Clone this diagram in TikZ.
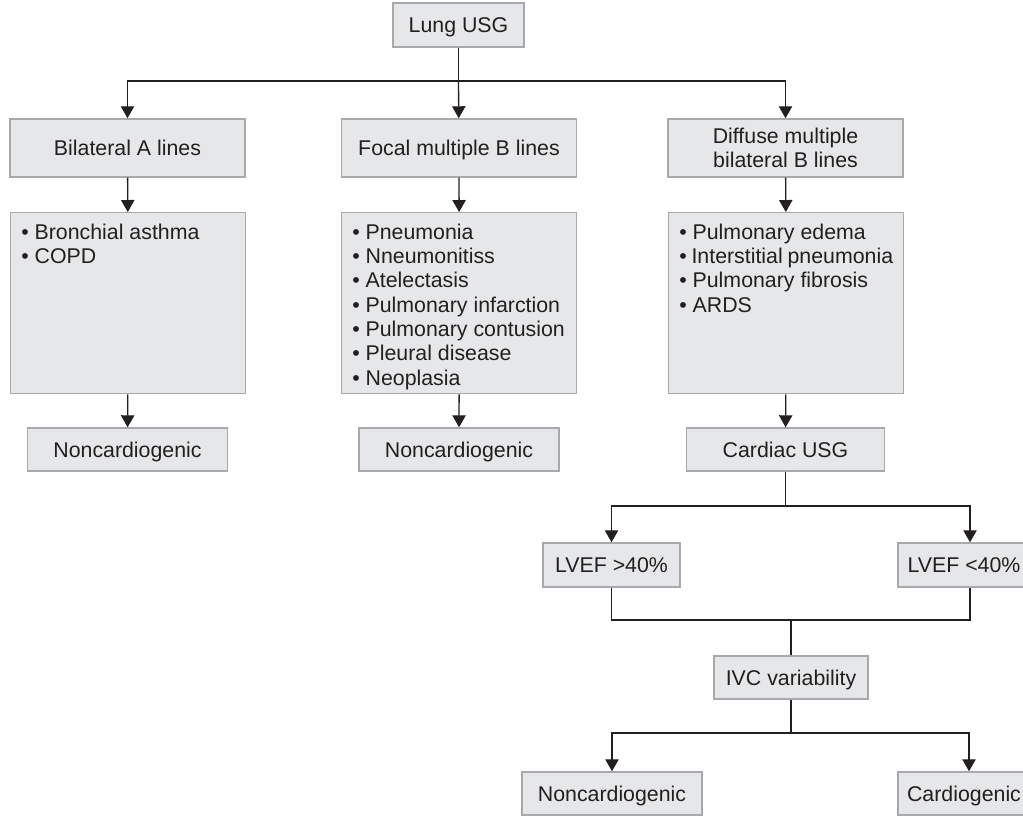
\documentclass[tikz,border=0pt]{standalone}
\usepackage{fontspec}
\setmainfont{Liberation Sans}
\usetikzlibrary{arrows.meta,positioning}
\definecolor{boxfill}{HTML}{E6E7E8}
\definecolor{boxline}{HTML}{A7A9AC}
\definecolor{ink}{HTML}{231F20}
\tikzset{
    box/.style = {
        draw = boxline,
        fill = boxfill,
        line width = 1.1pt,
        text = ink,
        inner sep = 0pt,
        },
    one line/.style = {
        box,
        text height = 11.5pt,
        text depth = 0pt,
        },
    list box/.style = {
        box,
        anchor = north west,
        inner xsep = 7.9pt,
        inner ysep = 7.3pt,
        },
    link/.style = {
        draw = ink,
        line width = 1pt,
        },
    arrow/.style = {
        link,
        -{Triangle[length=9pt,width=10pt]},
        },
}
\newcommand{\listtext}[1]{\parbox[c][121.15pt][t]{160.45pt}{\strut #1}}

\begin{document}
\begin{tikzpicture}[x=0.75pt, y=-0.75pt, font=\fontsize{16pt}{18.2pt}\selectfont]
            \useasboundingbox (0,0) rectangle (1023,815);
            \clip (0,0) rectangle (1023,815);

            % lung ultrasound
            \node[one line, minimum width=98.25pt, minimum height=33pt] (lung) at (458.5,25) {Lung USG};
            \node[one line, minimum width=176.25pt, minimum height=43.5pt] (bilat) at (127.5,148) {Bilateral A lines};
            \node[one line, minimum width=176.25pt, minimum height=43.5pt] (focal) at (459,148) {Focal multiple B lines};
            \node[box, align=center, minimum width=176.25pt, minimum height=43.5pt] (diffuse) at (785.5,148) {Diffuse multiple\\bilateral B lines};

            \node[list box] (list1) at (10,212) {\listtext{\textbullet{} Bronchial asthma\\\textbullet{} COPD}};
            \node[list box] (list2) at (341,212) {\listtext{\textbullet{} Pneumonia\\\textbullet{} Nneumonitiss\\\textbullet{} Atelectasis\\\textbullet{} Pulmonary infarction\\\textbullet{} Pulmonary contusion\\\textbullet{} Pleural disease\\\textbullet{} Neoplasia}};
            \node[list box] (list3) at (668,212) {\listtext{\textbullet{} Pulmonary edema\\\textbullet{} Interstitial pneumonia\\\textbullet{} Pulmonary fibrosis\\\textbullet{} ARDS}};

            \node[one line, minimum width=150pt, minimum height=32.25pt] (nc1) at (127.5,449.5) {Noncardiogenic};
            \node[one line, minimum width=150pt, minimum height=32.25pt] (nc2) at (459,449.5) {Noncardiogenic};
            \node[one line, minimum width=148.5pt, minimum height=32.25pt] (cardiac) at (785.5,449.5) {Cardiac USG};

            % cardiac ultrasound
            \node[one line, minimum width=102.75pt, minimum height=33pt] (lvef1) at (611.5,565) {LVEF >40\%};
            \node[one line, minimum width=108pt, minimum height=33pt] (lvef2) at (970,565) {LVEF <40\%\hspace*{9pt}};
            \node[one line, minimum width=115.5pt, minimum height=32.25pt] (ivc) at (791,677.5) {IVC variability};
            \node[one line, minimum width=135pt, minimum height=32.25pt] (nc3) at (612,793.5) {Noncardiogenic};
            \node[one line, minimum width=106.5pt, minimum height=32.25pt] (card) at (969,793.5) {Cardiogenic\hspace*{7.5pt}};

            \coordinate (lung split) at (458.5,81);
            \coordinate (card split) at (785.5,506);
            \coordinate (lvef join) at (791,620);
            \coordinate (ivc split) at (791,733);

            \draw[link] (lung) -- (lung split);
            \draw[arrow] (lung split) -| (bilat);
            \draw[arrow] (lung split) -- (focal);
            \draw[arrow] (lung split) -| (diffuse);

            \draw[arrow] (bilat) -- (list1);
            \draw[arrow] (focal) -- (list2);
            \draw[arrow] (diffuse) -- (list3);
            \draw[arrow] (list1) -- (nc1);
            \draw[arrow] (list2) -- (nc2);
            \draw[arrow] (list3) -- (cardiac);

            \draw[link] (cardiac) -- (card split);
            \draw[arrow] (card split) -| (lvef1);
            \draw[arrow] (card split) -| (lvef2);
            \draw[link] (lvef1.south) |- (lvef join) -| (lvef2.south);
            \draw[link] (lvef join) -- (ivc);

            \draw[link] (ivc) -- (ivc split);
            \draw[arrow] (ivc split) -| (nc3);
            \draw[arrow] (ivc split) -| (card);
        \end{tikzpicture}
\end{document}
